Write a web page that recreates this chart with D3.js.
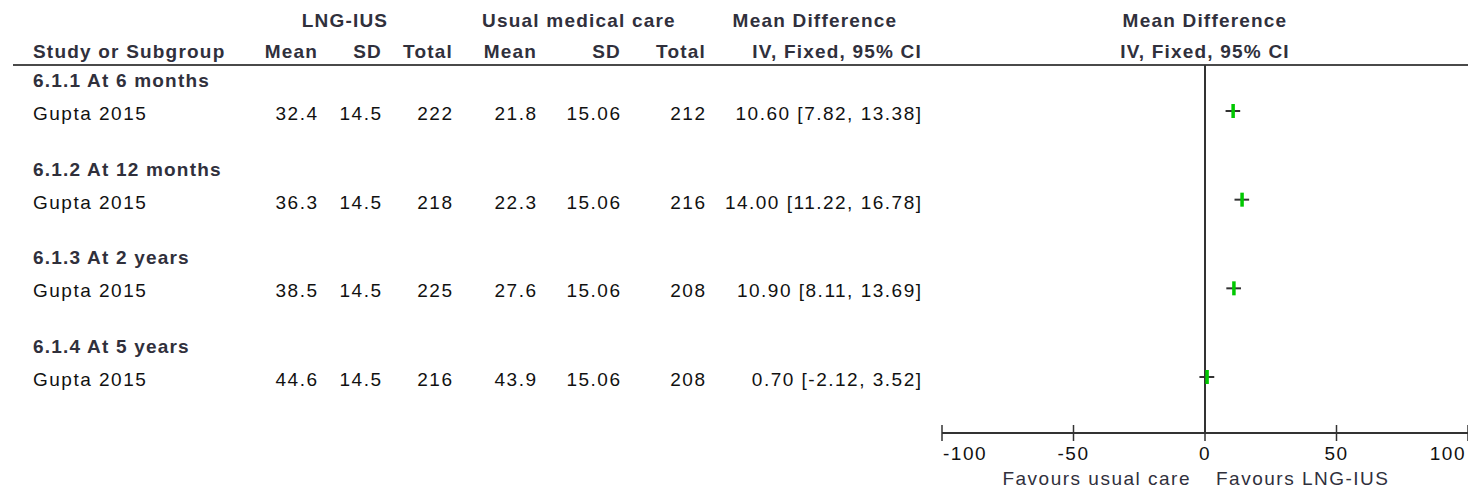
<!DOCTYPE html>
<html>
<head>
<meta charset="utf-8">
<script src="https://cdn.jsdelivr.net/npm/d3@7"></script>
<style>
  html, body { margin: 0; padding: 0; background: #fff; }
  svg { display: block; }
  .hd { font-family: "Liberation Sans", Arial, sans-serif; font-weight: bold; font-size: 19px; fill: #30303c; letter-spacing: 1.2px; }
  .tx { font-family: "Liberation Sans", Arial, sans-serif; font-size: 19px; fill: #111; letter-spacing: 1.5px; }
</style>
</head>
<body>
<div id="chart"></div>
<script>
// subgroups and study rows
const subgroups = ["6.1.1 At 6 months", "6.1.2 At 12 months", "6.1.3 At 2 years", "6.1.4 At 5 years"];
const studies = ["Gupta 2015", "Gupta 2015", "Gupta 2015", "Gupta 2015"];

// LNG-IUS arm
const lngMean = [32.4, 36.3, 38.5, 44.6];
const lngSD = [14.5, 14.5, 14.5, 14.5];
const lngTotal = [222, 218, 225, 216];

// usual medical care arm
const ucMean = [21.8, 22.3, 27.6, 43.9];
const ucSD = [15.06, 15.06, 15.06, 15.06];
const ucTotal = [212, 216, 208, 208];

// mean difference and 95% CI
const md = [10.60, 14.00, 10.90, 0.70];
const ciLow = [7.82, 11.22, 8.11, -2.12];
const ciHigh = [13.38, 16.78, 13.69, 3.52];

const axisTicks = [-100, -50, 0, 50, 100];

const W = 1468, H = 491;
const svg = d3.select("#chart").append("svg")
    .attr("width", W)
    .attr("height", H);

// scales
const x = d3.scaleLinear().domain([-100, 100]).range([942, 1468]);
const rowY = d3.scaleLinear().domain([0, subgroups.length - 1]).range([87, 353]);
const studyOffset = 33;
const axisY = 433;

// plain hyphen for negatives, like the original
const f2 = d3.formatLocale({ decimal: ".", thousands: ",", grouping: [3], currency: ["", ""], minus: "-" }).format(".2f");

// column headers
const top1 = 27, top2 = 58;
svg.append("text").attr("class", "hd").attr("x", 345).attr("y", top1).attr("text-anchor", "middle").text("LNG-IUS");
svg.append("text").attr("class", "hd").attr("x", 579).attr("y", top1).attr("text-anchor", "middle").text("Usual medical care");
svg.append("text").attr("class", "hd").attr("x", 815).attr("y", top1).attr("text-anchor", "middle").text("Mean Difference");
svg.append("text").attr("class", "hd").attr("x", x(0)).attr("y", top1).attr("text-anchor", "middle").text("Mean Difference");

svg.append("text").attr("class", "hd").attr("x", 33).attr("y", top2).text("Study or Subgroup");

// column definitions (right aligned)
const cols = [
    { label: "Mean", right: 317, values: lngMean, fmt: d => d },
    { label: "SD", right: 381, values: lngSD, fmt: d => d },
    { label: "Total", right: 452, values: lngTotal, fmt: d => d },
    { label: "Mean", right: 536, values: ucMean, fmt: d => d },
    { label: "SD", right: 620, values: ucSD, fmt: d => d },
    { label: "Total", right: 705, values: ucTotal, fmt: d => d },
    { label: "IV, Fixed, 95% CI", right: 921, values: md, fmt: (d, i) => `${f2(d)} [${f2(ciLow[i])}, ${f2(ciHigh[i])}]` }
];

cols.forEach(c => {
    svg.append("text").attr("class", "hd")
        .attr("x", c.right + 1).attr("y", top2)
        .attr("text-anchor", "end")
        .text(c.label);
});
svg.append("text").attr("class", "hd").attr("x", x(0)).attr("y", top2).attr("text-anchor", "middle").text("IV, Fixed, 95% CI");

// header rule
svg.append("line")
    .attr("x1", 13).attr("x2", W)
    .attr("y1", 65).attr("y2", 65)
    .attr("stroke", "#4a4a4a").attr("stroke-width", 2);

// zero line
svg.append("line")
    .attr("x1", x(0)).attr("x2", x(0))
    .attr("y1", 65).attr("y2", axisY)
    .attr("stroke", "#333").attr("stroke-width", 2);

// rows
const rows = svg.selectAll(".row")
    .data(subgroups)
    .enter()
    .append("g")
    .attr("class", "row");

rows.append("text").attr("class", "hd")
    .attr("x", 33)
    .attr("y", (d, i) => rowY(i))
    .text(d => d);

rows.append("text").attr("class", "tx")
    .attr("x", 33)
    .attr("y", (d, i) => rowY(i) + studyOffset)
    .text((d, i) => studies[i]);

cols.forEach(c => {
    rows.append("text").attr("class", "tx")
        .attr("x", c.right + 1.5)
        .attr("y", (d, i) => rowY(i) + studyOffset)
        .attr("text-anchor", "end")
        .text((d, i) => c.fmt(c.values[i], i));
});

// CI lines and point estimates
rows.append("line")
    .attr("x1", (d, i) => x(ciLow[i]))
    .attr("x2", (d, i) => x(ciHigh[i]))
    .attr("y1", (d, i) => rowY(i) + studyOffset - 9)
    .attr("y2", (d, i) => rowY(i) + studyOffset - 9)
    .attr("stroke", "#333").attr("stroke-width", 2);

rows.append("rect")
    .attr("x", (d, i) => x(md[i]) - 1.5)
    .attr("y", (d, i) => rowY(i) + studyOffset - 16)
    .attr("width", 3.5)
    .attr("height", 14)
    .attr("fill", "#00c800");

// axis
const axis = svg.append("g").attr("transform", `translate(0,${axisY})`);
axis.append("line")
    .attr("x1", x(-100)).attr("x2", x(100))
    .attr("stroke", "#333").attr("stroke-width", 2);
axis.selectAll(".tick")
    .data(axisTicks)
    .enter()
    .append("line")
    .attr("x1", d => x(d)).attr("x2", d => x(d))
    .attr("y1", -8).attr("y2", 8)
    .attr("stroke", "#333").attr("stroke-width", 1.5);
axis.selectAll(".tlab")
    .data(axisTicks)
    .enter()
    .append("text")
    .attr("class", "tx")
    .attr("x", (d, i) => i === 0 ? x(d) + 1 : (i === axisTicks.length - 1 ? x(d) - 2 : x(d)))
    .attr("y", 27)
    .attr("text-anchor", (d, i) => i === 0 ? "start" : (i === axisTicks.length - 1 ? "end" : "middle"))
    .text(d => d);

svg.append("text").attr("class", "tx")
    .attr("x", x(0) - 14).attr("y", 485)
    .attr("text-anchor", "end")
    .style("fill", "#30303c")
    .text("Favours usual care");
svg.append("text").attr("class", "tx")
    .attr("x", x(0) + 11).attr("y", 485)
    .style("fill", "#30303c")
    .text("Favours LNG-IUS");
</script>
</body>
</html>
